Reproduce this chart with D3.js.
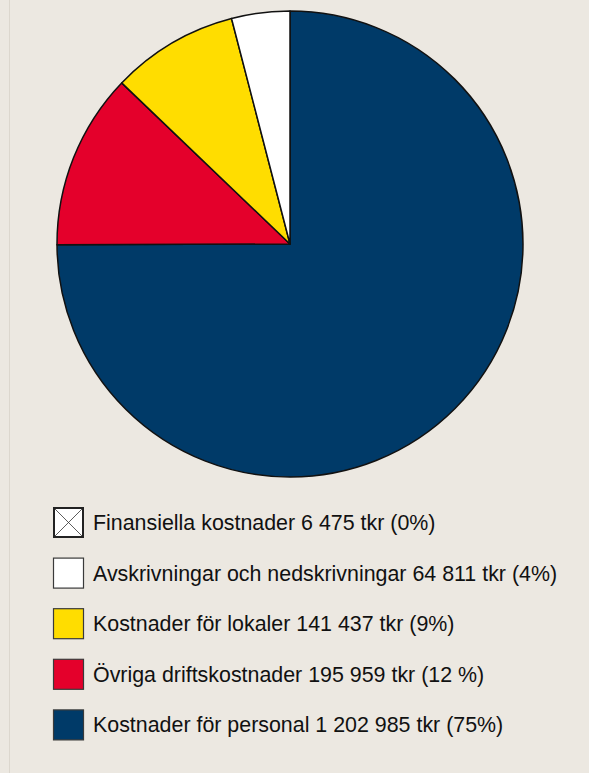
<!DOCTYPE html>
<html>
<head>
<meta charset="utf-8">
<script src="https://cdn.jsdelivr.net/npm/d3@7"></script>
<style>
html,body{margin:0;padding:0;background:#ece8e1;}
svg{display:block;}
</style>
</head>
<body>
<svg id="chart" width="589" height="773"></svg>
<script>
const categories = [
  "Finansiella kostnader",
  "Avskrivningar och nedskrivningar",
  "Kostnader för lokaler",
  "Övriga driftskostnader",
  "Kostnader för personal"
];
const values = [6475, 64811, 141437, 195959, 1202985];
const percentLabels = ["0%", "4%", "9%", "12 %", "75%"];
const inPie = [false, true, true, true, true];
const colors = ["#ffffff", "#ffffff", "#ffdd00", "#e4002b", "#003a68"];

const fmt = v => String(v).replace(/\B(?=(\d{3})+(?!\d))/g, " ");

const svg = d3.select("#chart");
const W = 589, H = 773;
svg.append("rect").attr("width", W).attr("height", H).attr("fill", "#ece8e1");
svg.append("line").attr("x1", 9.5).attr("x2", 9.5).attr("y1", 0).attr("y2", H)
  .attr("stroke", "#dcd7ce").attr("stroke-width", 1);

const cx = 290, cy = 244, R = 233;
const data = categories.map((c, i) => ({name: c, value: values[i], pct: percentLabels[i], inPie: inPie[i], color: colors[i], i}));
const pieData = data.filter(d => d.inPie).slice().reverse();
const pie = d3.pie().sort(null).value(d => d.value).startAngle(0).endAngle(2 * Math.PI);
const arc = d3.arc().innerRadius(0).outerRadius(R);

const g = svg.append("g").attr("transform", `translate(${cx},${cy})`);
g.selectAll("path").data(pie(pieData)).join("path")
  .attr("d", arc)
  .attr("fill", d => d.data.color)
  .attr("stroke", "#111")
  .attr("stroke-width", 1.5)
  .attr("stroke-linejoin", "round");

const legX = 53, legY0 = 507, legStep = 50.6, box = 31;
const leg = svg.append("g");
data.forEach((d, k) => {
  const y = legY0 + k * legStep;
  const item = leg.append("g").attr("transform", `translate(${legX},${y})`);
  if (!d.inPie) {
    item.append("rect").attr("x", 1).attr("y", 1).attr("width", box - 2).attr("height", box - 2)
      .attr("fill", "#ffffff").attr("stroke", "#222").attr("stroke-width", 2);
    item.append("line").attr("x1", 2).attr("y1", 2).attr("x2", box - 2).attr("y2", box - 2)
      .attr("stroke", "#333").attr("stroke-width", 0.8);
    item.append("line").attr("x1", box - 2).attr("y1", 2).attr("x2", 2).attr("y2", box - 2)
      .attr("stroke", "#333").attr("stroke-width", 0.8);
  } else {
    item.append("rect").attr("x", 0.5).attr("y", 0.5).attr("width", box - 1).attr("height", box - 1)
      .attr("fill", d.color).attr("stroke", "#3a3a3a").attr("stroke-width", 1.2);
  }
  item.append("text")
    .attr("x", 40).attr("y", box / 2 + 7.6)
    .attr("font-family", "'Liberation Sans', Arial, sans-serif")
    .attr("font-size", 21.4)
    .attr("fill", "#111")
    .text(`${d.name} ${fmt(d.value)} tkr (${d.pct})`);
});
</script>
</body>
</html>
